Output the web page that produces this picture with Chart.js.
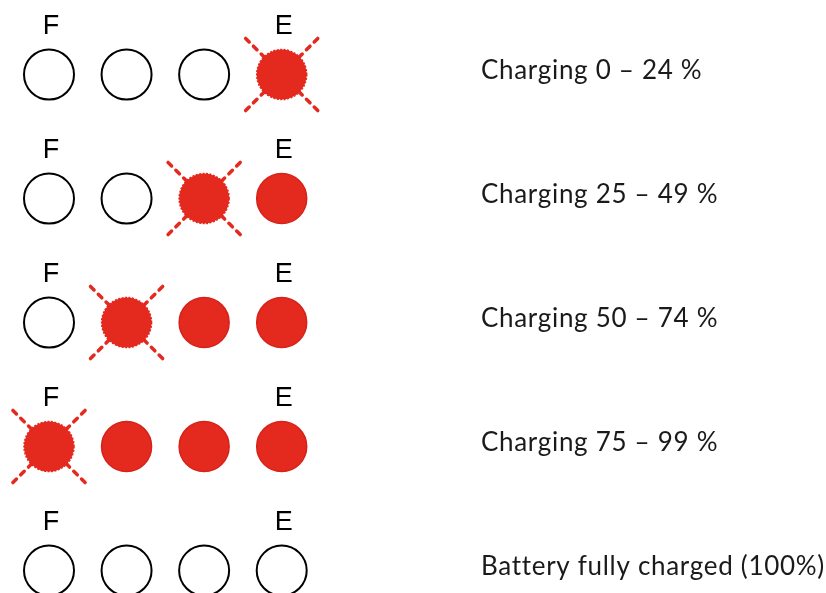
<!DOCTYPE html>
<html>
<head>
<meta charset="utf-8">
<script src="https://cdn.jsdelivr.net/npm/chart.js@4/dist/chart.umd.min.js"></script>
<style>
  body { margin: 0; background: #fff; }
  #wrap { width: 826px; height: 593px; }
</style>
</head>
<body>
<div id="wrap"><canvas id="leds"></canvas></div>
<script>
// led rows, top to bottom
const rowLabels = [
  "Charging 0 – 24 %",
  "Charging 25 – 49 %",
  "Charging 50 – 74 %",
  "Charging 75 – 99 %",
  "Battery fully charged (100%)"
];
// names over the leds (F ... E)
const ledNames = ["F", "", "", "E"];
// state of each led: off / on / blink
const ledStates = [
  ["off", "off", "off", "blink"],
  ["off", "off", "blink", "on"],
  ["off", "blink", "on", "on"],
  ["blink", "on", "on", "on"],
  ["off", "off", "off", "off"]
];

const red = "#e4291f";
const redEdge = "#d7221a";
const ledRadius = 25;
const textColumn = 6.569; // x value where the row text starts

const pointsFor = (state) => {
  let pts = [];
  ledStates.forEach((row, r) => {
    row.forEach((s, i) => {
      if (s === state) pts.push({ x: i + 1, y: r });
    });
  });
  return pts;
};

// rays + dashed edge of blinking leds
const blinkPlugin = {
  id: "blink",
  beforeDatasetsDraw(chart) {
    const ctx = chart.ctx;
    const xs = chart.scales.x, ys = chart.scales.y;
    ctx.save();
    ctx.strokeStyle = red;
    ctx.lineWidth = 3.5;
    ctx.lineCap = "round";
    ctx.setLineDash([5, 6]);
    pointsFor("blink").forEach((p) => {
      const cx = xs.getPixelForValue(p.x), cy = ys.getPixelForValue(p.y);
      const d = 51 / Math.SQRT2;
      [[1, 1], [1, -1], [-1, 1], [-1, -1]].forEach(([a, b]) => {
        // from the tip in towards the centre
        ctx.beginPath();
        ctx.moveTo(cx + a * d, cy + b * d);
        ctx.lineTo(cx, cy);
        ctx.stroke();
      });
    });
    ctx.restore();
  },
  afterDatasetsDraw(chart) {
    const ctx = chart.ctx;
    const xs = chart.scales.x, ys = chart.scales.y;
    ctx.save();
    ctx.strokeStyle = red;
    ctx.lineWidth = 1.5;
    ctx.setLineDash([2, 1.5]);
    pointsFor("blink").forEach((p) => {
      ctx.beginPath();
      ctx.arc(xs.getPixelForValue(p.x), ys.getPixelForValue(p.y), ledRadius, 0, Math.PI * 2);
      ctx.stroke();
    });
    ctx.restore();
  }
};

// F / E names and the row texts
const textPlugin = {
  id: "texts",
  afterDraw(chart) {
    const ctx = chart.ctx;
    const xs = chart.scales.x, ys = chart.scales.y;
    ctx.save();
    ctx.textBaseline = "alphabetic";
    rowLabels.forEach((label, r) => {
      const y = ys.getPixelForValue(r);
      ctx.fillStyle = "#000";
      ctx.font = "27px 'Liberation Sans', sans-serif";
      ctx.letterSpacing = "0px";
      ctx.textAlign = "center";
      ledNames.forEach((n, i) => {
        if (n) ctx.fillText(n, xs.getPixelForValue(i + 1) + 2, y - 41);
      });
      ctx.fillStyle = "#1a1a1a";
      ctx.font = "26px Lato, sans-serif";
      ctx.letterSpacing = "0.7px";
      ctx.textAlign = "left";
      ctx.fillText(label, xs.getPixelForValue(textColumn), y + 4);
    });
    ctx.restore();
  }
};

new Chart(document.getElementById("leds"), {
  type: "scatter",
  data: {
    datasets: [
      {
        label: "off",
        data: pointsFor("off"),
        pointRadius: ledRadius,
        pointBackgroundColor: "#fff",
        pointBorderColor: "#000",
        pointBorderWidth: 2
      },
      {
        label: "on",
        data: pointsFor("on"),
        pointRadius: ledRadius,
        pointBackgroundColor: red,
        pointBorderColor: redEdge,
        pointBorderWidth: 1.5
      },
      {
        label: "blink",
        data: pointsFor("blink"),
        pointRadius: ledRadius,
        pointBackgroundColor: red,
        pointBorderWidth: 0
      }
    ]
  },
  options: {
    responsive: true,
    maintainAspectRatio: false,
    animation: false,
    layout: { padding: 0, autoPadding: false },
    plugins: { legend: { display: false }, tooltip: { enabled: false } },
    scales: {
      x: { type: "linear", display: false, min: 0.3683, max: 11.017 },
      y: { type: "linear", display: false, reverse: true, min: -0.6008, max: 4.181 }
    }
  },
  plugins: [blinkPlugin, textPlugin]
});
</script>
</body>
</html>
